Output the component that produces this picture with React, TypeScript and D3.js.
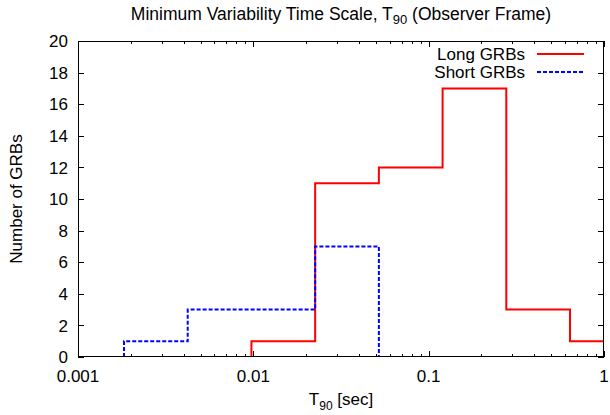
import {useEffect, useRef} from "react";
import * as d3 from "d3";

// log-spaced bin edges (seconds)
const binEdges = [0.00183, 0.004224, 0.009754, 0.02252, 0.0520, 0.1201, 0.2772, 0.6400, 1.477];
// counts per bin, aligned with binEdges (bin i = [edge i, edge i+1])
const longCounts = [0, 0, 1, 11, 12, 17, 3, 1];
const shortCounts = [1, 3, 3, 7, 0, 0, 0, 0];

const yTicks = [0, 2, 4, 6, 8, 10, 12, 14, 16, 18, 20];
const xMajor = [0.001, 0.01, 0.1, 1];
const xMajorLabels = ["0.001", "0.01", "0.1", "1"];

const series = [
  {name: "Long GRBs", counts: longCounts, color: "#ff0000", dash: ""},
  {name: "Short GRBs", counts: shortCounts, color: "#0000ff", dash: "4,2"},
];

const W = 610;
const H = 415;
const FONT = "'Liberation Sans', Arial, sans-serif";

function stepPoints(counts: number[]): [number, number][] {
  // first and last non-empty bin
  const first = counts.findIndex(c => c > 0);
  let last = counts.length - 1;
  while (last > 0 && counts[last] === 0) last--;
  const pts: [number, number][] = [[binEdges[first], 0]];
  for (let i = first; i <= last; i++) {
    pts.push([binEdges[i], counts[i]]);
    pts.push([binEdges[i + 1], counts[i]]);
  }
  pts.push([binEdges[last + 1], 0]);
  return pts;
}

export default function App() {
  const svgRef = useRef<SVGSVGElement | null>(null);

  useEffect(() => {
    const margin = {top: 41, right: 6, bottom: 58, left: 78};
    const iw = W - margin.left - margin.right;
    const ih = H - margin.top - margin.bottom;

    const svg = d3.select(svgRef.current);
    svg.selectAll("*").remove();

    const x = d3.scaleLog().domain([0.001, 1]).range([0, iw]);
    const y = d3.scaleLinear().domain([0, 20]).range([ih, 0]);

    const g = svg.append("g")
        .attr("transform", `translate(${margin.left},${margin.top})`);

    g.append("clipPath").attr("id", "plotclip")
        .append("rect").attr("width", iw).attr("height", ih);

    // ticks (inward, on both sides)
    const ticks = g.append("g").attr("stroke", "#000").attr("stroke-width", 1);
    yTicks.forEach(t => {
      const yy = Math.round(y(t)) + 0.5;
      ticks.append("line").attr("x1", 0).attr("x2", 6).attr("y1", yy).attr("y2", yy);
      ticks.append("line").attr("x1", iw - 6).attr("x2", iw).attr("y1", yy).attr("y2", yy);
    });
    const minor: number[] = [];
    [0.001, 0.01, 0.1].forEach(d => {
      for (let k = 2; k <= 9; k++) minor.push(d * k);
    });
    minor.forEach(t => {
      const xx = Math.round(x(t)) + 0.5;
      ticks.append("line").attr("x1", xx).attr("x2", xx).attr("y1", ih).attr("y2", ih - 3);
      ticks.append("line").attr("x1", xx).attr("x2", xx).attr("y1", 0).attr("y2", 3);
    });
    xMajor.forEach(t => {
      const xx = Math.round(x(t)) + 0.5;
      ticks.append("line").attr("x1", xx).attr("x2", xx).attr("y1", ih).attr("y2", ih - 6);
      ticks.append("line").attr("x1", xx).attr("x2", xx).attr("y1", 0).attr("y2", 6);
    });

    // tick labels
    g.selectAll(".ylab").data(yTicks).enter().append("text")
        .attr("x", -10)
        .attr("y", d => y(d))
        .attr("dy", "0.36em")
        .attr("text-anchor", "end")
        .style("font", `17px ${FONT}`)
        .text(d => String(d));

    g.selectAll(".xlab").data(xMajor).enter().append("text")
        .attr("x", d => x(d))
        .attr("y", ih + 25)
        .attr("text-anchor", "middle")
        .style("font", `17px ${FONT}`)
        .text((d, i) => xMajorLabels[i]);

    // histogram steps
    const line = d3.line<[number, number]>()
        .x(d => x(d[0]))
        .y(d => y(d[1]));

    const plot = g.append("g").attr("clip-path", "url(#plotclip)");
    series.forEach(s => {
      plot.append("path")
          .attr("d", line(stepPoints(s.counts)))
          .attr("fill", "none")
          .attr("stroke", s.color)
          .attr("stroke-width", 2)
          .attr("stroke-dasharray", s.dash || null);
    });

    // frame
    g.append("rect")
        .attr("x", 0.5).attr("y", 0.5)
        .attr("width", iw - 1).attr("height", ih - 1)
        .attr("fill", "none")
        .attr("stroke", "#000")
        .attr("stroke-width", 1);

    // legend
    series.forEach((s, i) => {
      const ly = 13 + i * 18;
      g.append("text")
          .attr("x", 447)
          .attr("y", ly)
          .attr("dy", "0.36em")
          .attr("text-anchor", "end")
          .style("font", `17px ${FONT}`)
          .text(s.name);
      g.append("line")
          .attr("x1", 459).attr("x2", 506)
          .attr("y1", ly).attr("y2", ly)
          .attr("stroke", s.color)
          .attr("stroke-width", 2)
          .attr("stroke-dasharray", s.dash || null);
    });

    // title
    const title = svg.append("text")
        .attr("x", margin.left + iw / 2)
        .attr("y", 20)
        .attr("text-anchor", "middle")
        .style("font", `17.5px ${FONT}`);
    title.append("tspan").text("Minimum Variability Time Scale, T");
    title.append("tspan").attr("dy", 4).style("font-size", "13px").text("90");
    title.append("tspan").attr("dy", -4).text(" (Observer Frame)");

    // x label
    const xl = svg.append("text")
        .attr("x", margin.left + iw / 2)
        .attr("y", 405)
        .attr("text-anchor", "middle")
        .style("font", `17px ${FONT}`);
    xl.append("tspan").text("T");
    xl.append("tspan").attr("dy", 5).style("font-size", "12px").text("90");
    xl.append("tspan").attr("dy", -5).text(" [sec]");

    // y label
    svg.append("text")
        .attr("transform", `translate(22,${margin.top + ih / 2}) rotate(-90)`)
        .attr("text-anchor", "middle")
        .style("font", `17px ${FONT}`)
        .text("Number of GRBs");
  }, []);

  return (
    <svg ref={svgRef} width={W} height={H}
         style={{position: "absolute", left: 0, top: 0, background: "#fff"}} />
  );
}
